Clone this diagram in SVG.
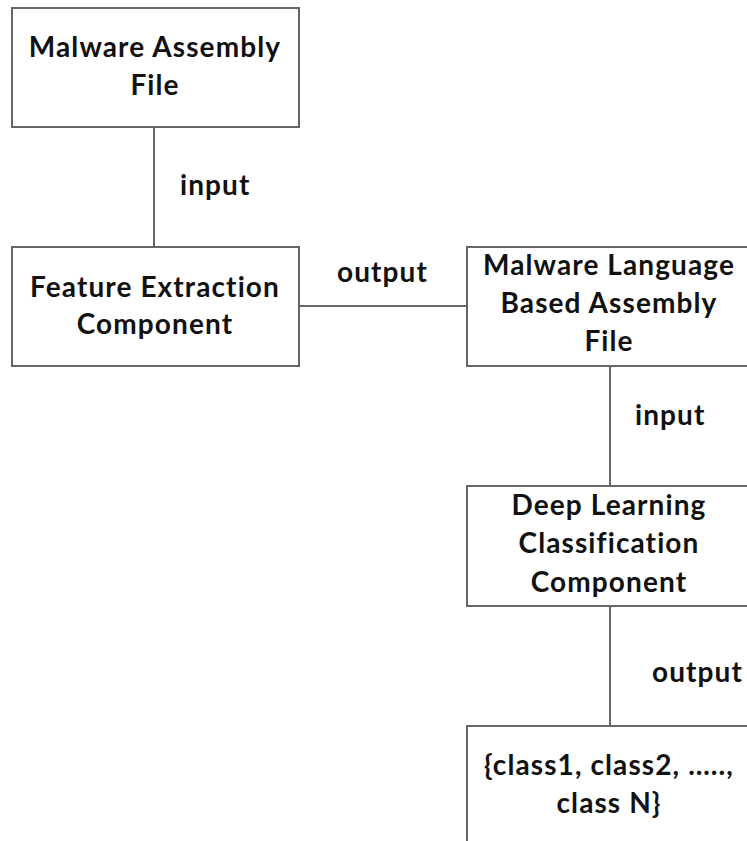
<svg xmlns="http://www.w3.org/2000/svg" width="747" height="841" viewBox="0 0 747 841">
  <style>
    .box { fill: #ffffff; stroke: #666666; stroke-width: 2; }
    .link { stroke: #666666; stroke-width: 2; fill: none; }
    text { font-family: Lato, "Liberation Sans", sans-serif; font-weight: bold; font-size: 28px; fill: #111111; text-anchor: middle; letter-spacing: 1.1px; }
    .lbl { text-anchor: start; }
  </style>
  <rect width="747" height="841" fill="#ffffff"/>

  <g id="connectors">
    <line class="link" x1="154" y1="127" x2="154" y2="247"/>
    <line class="link" x1="299" y1="306" x2="467" y2="306"/>
    <line class="link" x1="610" y1="366" x2="610" y2="486"/>
    <line class="link" x1="610" y1="606" x2="610" y2="726"/>
    <text class="lbl" x="180" y="195">input</text>
    <text class="lbl" x="337" y="282">output</text>
    <text class="lbl" x="635" y="425">input</text>
    <text class="lbl" x="652" y="682">output</text>
  </g>

  <g id="malware-assembly-file">
    <rect class="box" x="12" y="8" width="287" height="119"/>
    <text x="155" y="57">Malware Assembly</text>
    <text x="155" y="95">File</text>
  </g>

  <g id="feature-extraction">
    <rect class="box" x="12" y="247" width="287" height="119"/>
    <text x="155" y="297">Feature Extraction</text>
    <text x="155" y="334">Component</text>
  </g>

  <g id="language-based-file">
    <rect class="box" x="467" y="247" width="300" height="119"/>
    <text x="609" y="275">Malware Language</text>
    <text x="609" y="313">Based Assembly</text>
    <text x="609" y="351">File</text>
  </g>

  <g id="deep-learning">
    <rect class="box" x="467" y="486" width="300" height="120"/>
    <text x="609" y="515">Deep Learning</text>
    <text x="609" y="553">Classification</text>
    <text x="609" y="592">Component</text>
  </g>

  <g id="classes">
    <rect class="box" x="467" y="726" width="300" height="130"/>
    <text x="609" y="775">{class1, class2, ….., </text>
    <text x="609" y="813">class N}</text>
  </g>
</svg>
